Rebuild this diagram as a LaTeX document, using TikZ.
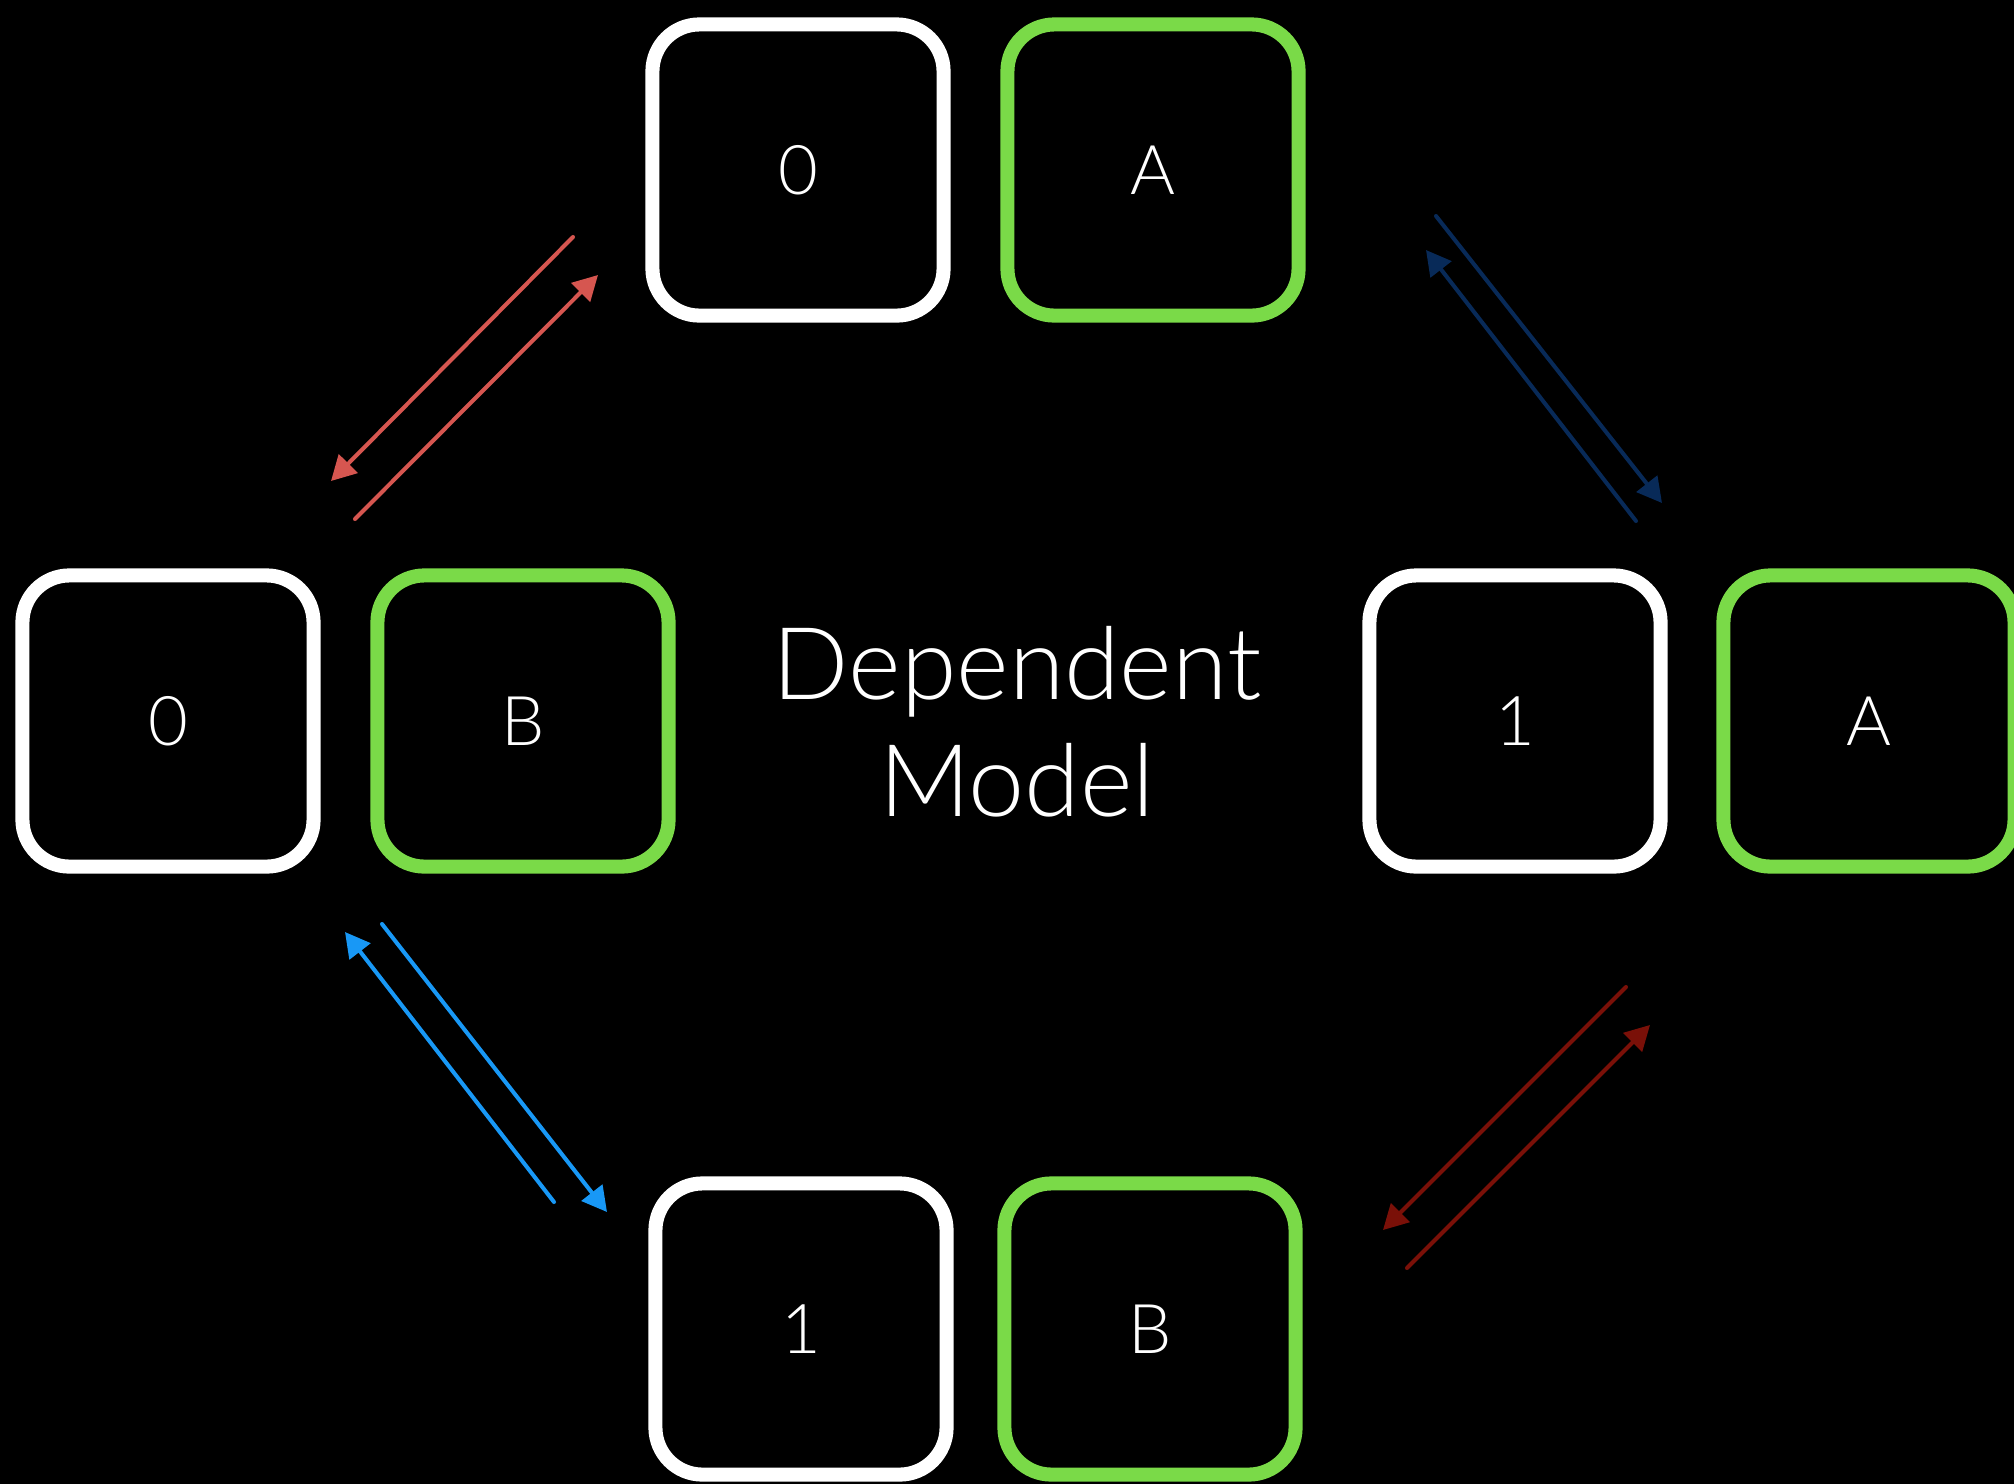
\documentclass[tikz,border=0pt]{standalone}
\usepackage{fontspec}
\setmainfont{Lato}[UprightFont=* Light]
\usetikzlibrary{arrows.meta}
\definecolor{cardgreen}{RGB}{122,218,72}
\definecolor{flowred}{RGB}{214,86,80}
\definecolor{flownavy}{RGB}{8,42,88}
\definecolor{flowblue}{RGB}{24,152,246}
\definecolor{flowdark}{RGB}{122,16,8}

\begin{document}
\begin{tikzpicture}[line cap=round,line join=round,>={Triangle[length=7pt,width=7.4pt]},x=0.01cm,y=-0.01cm,
	card/.style={draw,line width=4pt,rounded corners=0.47cm,minimum width=2.91cm,minimum height=2.91cm,inner sep=0pt,text=white,font=\fontsize{19.5}{24}\selectfont},
	bitcard/.style={card,draw=white},
	lettercard/.style={card,draw=cardgreen},
	flow/.style={->,line width=1.15pt}]
	\clip(0,0) rectangle (2014,1484);
	\fill[black] (0,0) rectangle (2014,1484);
	% the four states
	\node[bitcard] (top0) at (798,170) {0};
	\node[lettercard] (topA) at (1153,170) {A};
	\node[bitcard] (left0) at (168,721) {0};
	\node[lettercard] (leftB) at (523,721) {B};
	\node[bitcard] (right1) at (1515,721) {1};
	\node[lettercard] (rightA) at (1869,721) {A};
	\node[bitcard] (bottom1) at (801,1329) {1};
	\node[lettercard] (bottomB) at (1150,1329) {B};
	\node[text=white,align=center,font=\fontsize{28.6}{33.3}\selectfont] (title) at (1017,722) {Dependent\\Model};
	% arrow ends
	\coordinate (redA) at (573,237);
	\coordinate (redB) at (331,481);
	\coordinate (redC) at (355,519);
	\coordinate (redD) at (598,275);
	\coordinate (navyA) at (1436,216);
	\coordinate (navyB) at (1662,503);
	\coordinate (navyC) at (1636,521);
	\coordinate (navyD) at (1426,250);
	\coordinate (blueA) at (382,924);
	\coordinate (blueB) at (607,1212);
	\coordinate (blueC) at (554,1202);
	\coordinate (blueD) at (345,932);
	\coordinate (darkA) at (1626,987);
	\coordinate (darkB) at (1383,1230);
	\coordinate (darkC) at (1407,1268);
	\coordinate (darkD) at (1650,1025);
	% arrows
	\draw[flow,flowred] (redA) -- (redB);
	\draw[flow,flowred] (redC) -- (redD);
	\draw[flow,flownavy] (navyA) -- (navyB);
	\draw[flow,flownavy] (navyC) -- (navyD);
	\draw[flow,flowblue] (blueA) -- (blueB);
	\draw[flow,flowblue] (blueC) -- (blueD);
	\draw[flow,flowdark] (darkA) -- (darkB);
	\draw[flow,flowdark] (darkC) -- (darkD);
\end{tikzpicture}
\end{document}
